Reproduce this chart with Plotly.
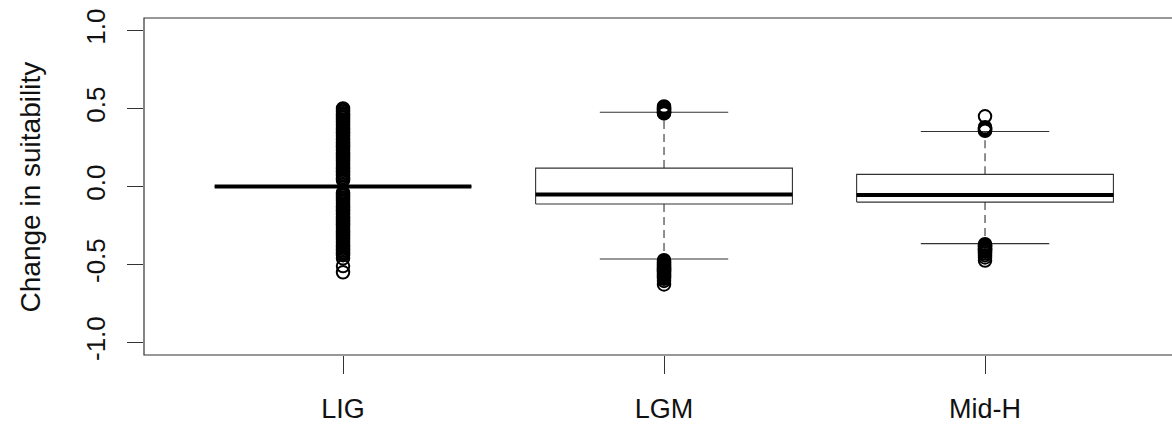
import plotly.graph_objects as go

# Time periods and summary statistics of the change in suitability
periods = ["LIG", "LGM", "Mid-H"]
positions = [1, 2, 3]
q1 = [0.0, -0.112, -0.100]
median = [0.0, -0.052, -0.055]
q3 = [0.0, 0.118, 0.078]
whisker_low = [0.0, -0.465, -0.366]
whisker_high = [0.0, 0.476, 0.353]

# Points beyond the whiskers
outliers_lig = [
    0.04, 0.05, 0.06, 0.07, 0.08, 0.09, 0.10, 0.11, 0.12, 0.13, 0.14, 0.15,
    0.16, 0.17, 0.18, 0.19, 0.20, 0.21, 0.22, 0.23, 0.24, 0.25, 0.26, 0.27,
    0.28, 0.29, 0.30, 0.31, 0.32, 0.33, 0.34, 0.35, 0.36, 0.37, 0.38, 0.39,
    0.40, 0.41, 0.42, 0.43, 0.44, 0.45, 0.46, 0.47, 0.48, 0.49, 0.50,
    -0.04, -0.05, -0.06, -0.07, -0.08, -0.09, -0.10, -0.11, -0.12, -0.13,
    -0.14, -0.15, -0.16, -0.17, -0.18, -0.19, -0.20, -0.21, -0.22, -0.23,
    -0.24, -0.25, -0.26, -0.27, -0.28, -0.29, -0.30, -0.31, -0.32, -0.33,
    -0.34, -0.35, -0.36, -0.37, -0.38, -0.39, -0.40, -0.41, -0.42, -0.43,
    -0.44, -0.46, -0.51, -0.55,
]
outliers_lgm = [
    0.468, 0.473, 0.478, 0.483, 0.488, 0.493, 0.498, 0.503, 0.508, 0.513,
    -0.472, -0.478, -0.484, -0.490, -0.496, -0.502, -0.508, -0.514, -0.520,
    -0.526, -0.532, -0.538, -0.544, -0.550, -0.556, -0.562, -0.568, -0.575,
    -0.583, -0.592, -0.605, -0.628,
]
outliers_midh = [
    0.357, 0.362, 0.366, 0.370, 0.375, 0.380, 0.450,
    -0.370, -0.375, -0.380, -0.385, -0.390, -0.395, -0.400, -0.405, -0.410,
    -0.418, -0.428, -0.440, -0.455, -0.475,
]
outliers = [outliers_lig, outliers_lgm, outliers_midh]

y_ticks = [-1.0, -0.5, 0.0, 0.5, 1.0]
y_tick_labels = ["-1.0", "-0.5", "0.0", "0.5", "1.0"]

BOX_HALF = 0.4     # half of the box width
CAP_HALF = 0.2     # half of the whisker staple width
LINE = "#333333"
FONT = "Liberation Sans, Arial, Helvetica, sans-serif"

fig = go.Figure()

for i, x in enumerate(positions):
    # whiskers (dashed)
    fig.add_trace(go.Scatter(
        x=[x, x, None, x, x],
        y=[q3[i], whisker_high[i], None, q1[i], whisker_low[i]],
        mode="lines", line=dict(color=LINE, width=1.1, dash="8px,5px"),
        hoverinfo="skip", showlegend=False))
    # whisker staples
    fig.add_trace(go.Scatter(
        x=[x - CAP_HALF, x + CAP_HALF, None, x - CAP_HALF, x + CAP_HALF],
        y=[whisker_high[i], whisker_high[i], None, whisker_low[i], whisker_low[i]],
        mode="lines", line=dict(color=LINE, width=1.1),
        hoverinfo="skip", showlegend=False))
    # box
    fig.add_trace(go.Scatter(
        x=[x - BOX_HALF, x + BOX_HALF, x + BOX_HALF, x - BOX_HALF, x - BOX_HALF],
        y=[q1[i], q1[i], q3[i], q3[i], q1[i]],
        mode="lines", line=dict(color=LINE, width=1.1),
        fill="toself", fillcolor="white",
        hoverinfo="skip", showlegend=False))
    # median
    fig.add_trace(go.Scatter(
        x=[x - BOX_HALF, x + BOX_HALF],
        y=[median[i], median[i]],
        mode="lines", line=dict(color="black", width=4),
        hoverinfo="skip", showlegend=False))
    # outliers
    fig.add_trace(go.Scatter(
        x=[x] * len(outliers[i]), y=outliers[i],
        mode="markers",
        marker=dict(symbol="circle-open", size=12.5, color="black",
                    line=dict(width=2, color="black")),
        hoverinfo="skip", showlegend=False))

fig.update_layout(
    width=1172, height=424,
    margin=dict(l=144, r=0, t=18, b=66),
    paper_bgcolor="white", plot_bgcolor="white",
    font=dict(family=FONT, color="#111"),
    xaxis=dict(
        range=[0.38, 3.5825], tickmode="array",
        tickvals=positions, ticktext=periods,
        ticks="outside", ticklen=18, tickwidth=1, tickcolor=LINE,
        tickfont=dict(size=27, family=FONT, color="#111"),
        ticklabelstandoff=12,
        showgrid=False, zeroline=False, showline=False,
    ),
    yaxis=dict(
        range=[-1.08, 1.08], tickmode="array",
        tickvals=y_ticks, ticktext=y_tick_labels,
        ticks="outside", ticklen=16, tickwidth=1, tickcolor=LINE,
        tickangle=-90,
        tickfont=dict(size=26, family=FONT, color="#111"),
        ticklabelstandoff=12,
        showgrid=False, zeroline=False, showline=False,
    ),
    shapes=[dict(
        type="rect", xref="paper", yref="paper",
        x0=0, x1=1.05, y0=0, y1=1,
        line=dict(color=LINE, width=1.2), layer="above")],
    annotations=[dict(
        text="Change in suitability", textangle=-90,
        xref="paper", yref="paper", x=-0.110, y=0.5,
        xanchor="center", yanchor="middle", showarrow=False,
        font=dict(size=28, family=FONT, color="#111"))],
)

fig.write_html("out.html")
